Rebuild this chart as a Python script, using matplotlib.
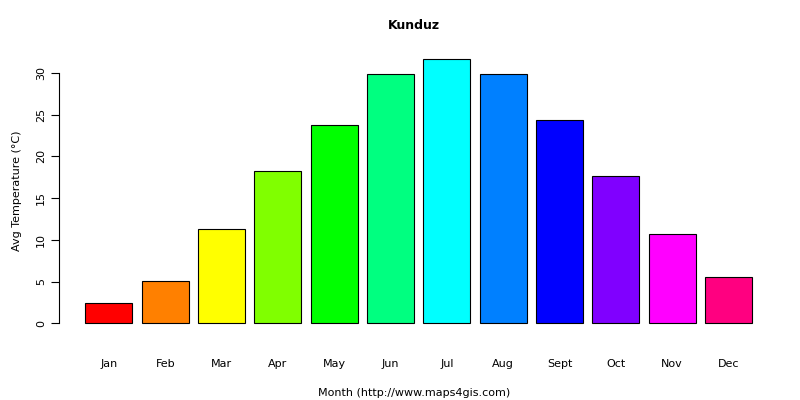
import matplotlib
matplotlib.use("Agg")
import matplotlib.pyplot as plt

months = ["Jan","Feb","Mar","Apr","May","Jun","Jul","Aug","Sept","Oct","Nov","Dec"]
temps = [2.4, 5.1, 11.3, 18.3, 23.8, 29.8, 31.7, 29.8, 24.3, 17.6, 10.7, 5.5]
colors = ["#FF0000","#FF8000","#FFFF00","#80FF00","#00FF00","#00FF80",
          "#00FFFF","#0080FF","#0000FF","#8000FF","#FF00FF","#FF0080"]

fig = plt.figure(figsize=(8,4), dpi=100)
ax = fig.add_axes([0.074, 0.165, 0.887, 0.715])
x = [0.7 + 1.2*i for i in range(12)]
ax.bar(x, temps, width=1.0, color=colors, edgecolor="black", linewidth=0.8)
ax.set_xlim(-0.36, 14.76)
ax.set_ylim(-1.27, 32.97)
for s in ["top","right","bottom"]:
    ax.spines[s].set_visible(False)
ax.spines["left"].set_bounds(0, 30)
ax.set_yticks([0,5,10,15,20,25,30])
ax.set_yticklabels([str(v) for v in [0,5,10,15,20,25,30]], rotation=90, va="center", fontsize=8)
ax.set_xticks(x)
ax.set_xticklabels(months, fontsize=8)
ax.tick_params(axis="x", length=0, pad=18)
ax.tick_params(axis="y", length=6)
ax.set_xlabel("Month (http://www.maps4gis.com)", fontsize=8, labelpad=14)
ax.set_ylabel("Avg Temperature (°C)", fontsize=8, labelpad=10)
ax.set_title("Kunduz", fontsize=9, fontweight="bold", pad=14)
fig.savefig("out.png")
